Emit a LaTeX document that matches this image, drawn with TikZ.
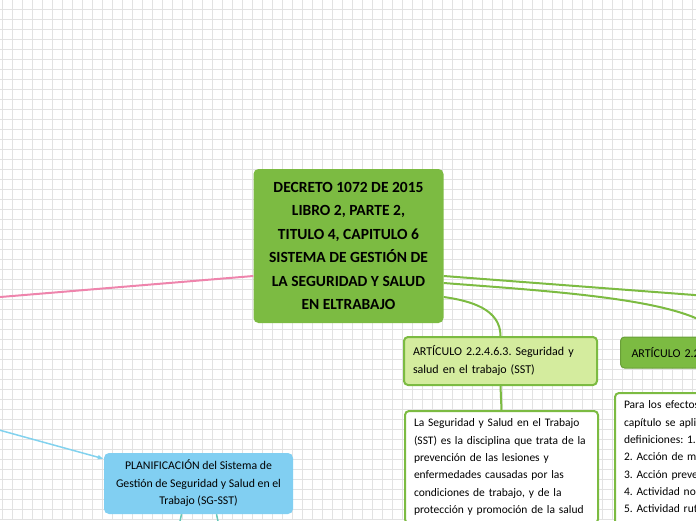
\documentclass[tikz,border=0pt]{standalone}
\usepackage{fontspec}
\setmainfont{Carlito}
\frenchspacing
\usetikzlibrary{positioning}
\usetikzlibrary{arrows.meta}

\definecolor{mapgreen}{RGB}{124,187,66}
\definecolor{artgreen}{RGB}{212,236,158}
\definecolor{planblue}{RGB}{129,207,242}
\definecolor{pinkline}{RGB}{238,132,172}
\definecolor{skyline}{RGB}{130,210,238}
\definecolor{tealline}{RGB}{102,200,184}
\definecolor{gridgray}{RGB}{226,226,226}

\begin{document}
\begin{tikzpicture}[x=1pt, y=-1pt,
    gridline/.style={draw=gridgray, line width=0.8pt},
    central/.style={fill=mapgreen, rounded corners=5pt, minimum width=190pt, minimum height=154pt, align=center, font=\fontsize{15.5}{23.5}\selectfont\bfseries},
    article/.style={fill=artgreen, draw=mapgreen, line width=2pt, rounded corners=4pt, minimum height=48pt, text width=175pt, inner xsep=9pt, align=left, font=\fontsize{12}{18}\selectfont},
    headbox/.style={fill=mapgreen, draw=mapgreen!85!black, line width=1pt, rounded corners=4pt, minimum height=31pt, text width=178pt, align=left, inner xsep=11pt, font=\fontsize{12}{18}\selectfont},
    detail/.style={fill=white, draw=mapgreen, line width=2pt, rounded corners=4pt, anchor=north west, text width=175pt, inner xsep=9pt, inner ysep=8pt, align=left, font=\fontsize{11.5}{17.3}\selectfont},
    plan/.style={fill=planblue, rounded corners=5pt, minimum width=189pt, minimum height=61pt, align=center, font=\fontsize{11.8}{17.5}\selectfont},
    branch/.style={draw=mapgreen, line width=2pt},
  ]
                \useasboundingbox (0,0) rectangle (696,520);
                \clip (0,0) rectangle (696,520);

                % Grid paper
                \foreach \gx in {0,...,69} \draw[gridline] (2.5+10*\gx,0) -- (2.5+10*\gx,520);
                \foreach \gy in {0,...,51} \draw[gridline] (0,9+10*\gy) -- (696,9+10*\gy);

                % Off-page ends
                \coordinate (offleft) at (-60,302);
                \coordinate (offright) at (800,303);
                \coordinate (offsky) at (-30,422);
                \coordinate (offplanA) at (176,540);
                \coordinate (offplanB) at (222,540);

                % Central topic
                \node[central] (decreto) at (348.5,246) {DECRETO 1072 DE 2015\\ LIBRO 2, PARTE 2,\\ TITULO 4, CAPITULO 6\\ SISTEMA DE GESTIÓN DE\\ LA SEGURIDAD Y SALUD\\ EN ELTRABAJO};

                % Article 2.2.4.6.3
                \node[article] (sst) at (500.5,361) {ARTÍCULO 2.2.4.6.3. Seguridad y\\ salud en el trabajo (SST)};
                \node[detail] (sstText) at (404,410) {La Seguridad y Salud en el Trabajo\\ (SST) es la disciplina que trata de la\\ prevención de las lesiones y\\ enfermedades causadas por las\\ condiciones de trabajo, y de la\\ protección y promoción de la salud};

                % Article 2.2.4.6.2
                \node[headbox, anchor=west] (defs) at (620,352.5) {ARTÍCULO 2.2.4.6.2. Definiciones};
                \node[detail, text width=190pt] (defsText) at (614,392) {Para los efectos del presente\\ capítulo se aplican las\\ definiciones: 1. Acción\\ 2. Acción de mejora\\ 3. Acción preventiva\\ 4. Actividad no rutinaria\\ 5. Actividad rutinaria\\ 6. Alta dirección};

                % Planificacion
                \node[plan] (planSG) at (198.5,483.5) {PLANIFICACIÓN del Sistema de\\ Gestión de Seguridad y Salud en el\\ Trabajo (SG-SST)};

                % Branches
                \draw[pinkline, line width=2pt] ([yshift=-30pt]decreto.west) -- (offleft);
                \draw[branch] ([yshift=-30pt]decreto.east) -- (offright);
                \draw[branch] ([yshift=-37pt]decreto.east) .. controls (560,292) and (700,300) .. (defs.north);
                \draw[branch] ([yshift=-51pt]decreto.east) to[out=-8, in=90] (sst.north);
                \draw[branch] (sst.south) -- (sstText.north);
                \draw[skyline, line width=1.5pt, -{Latex[length=6pt,width=5pt]}] (offsky) -- ([yshift=-6pt]planSG.north west);
                \draw[tealline, line width=1.5pt] ([xshift=-17pt]planSG.south) -- (offplanA);
                \draw[tealline, line width=1.5pt] ([xshift=18pt]planSG.south) -- (offplanB);
\end{tikzpicture}
\end{document}
